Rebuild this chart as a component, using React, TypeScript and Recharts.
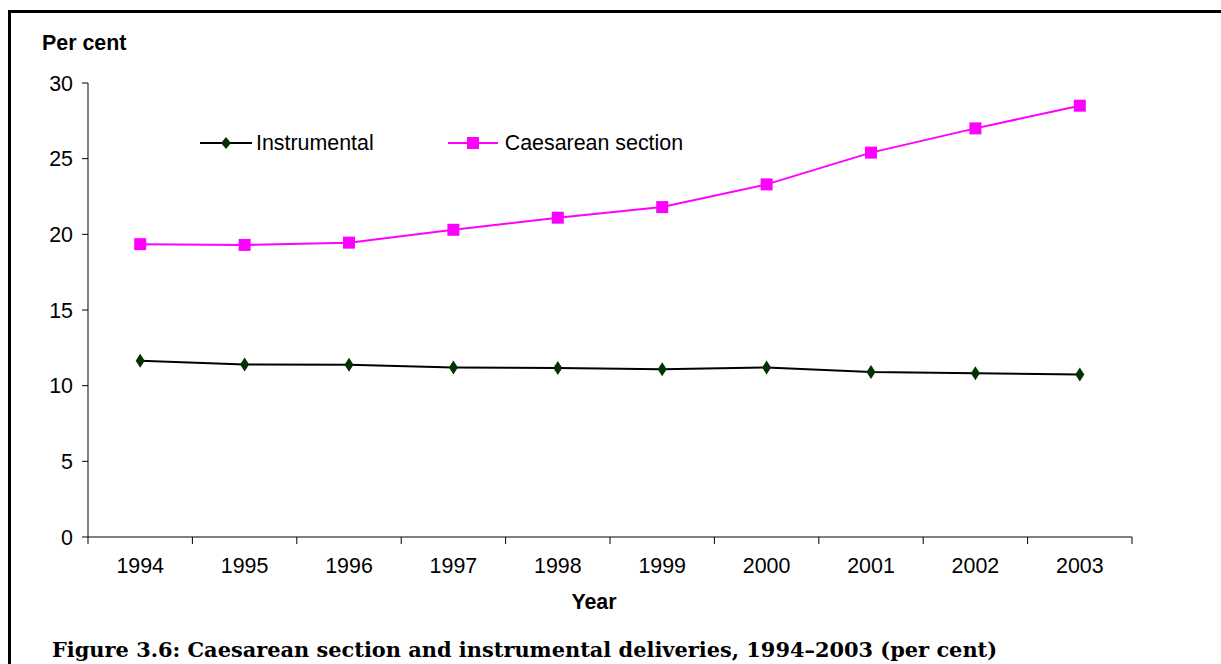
import React from "react";
import { LineChart, Line, XAxis, YAxis, Legend, Label } from "recharts";

const years = ["1994", "1995", "1996", "1997", "1998", "1999", "2000", "2001", "2002", "2003"];
const instrumental = [11.65, 11.4, 11.38, 11.2, 11.17, 11.08, 11.2, 10.9, 10.82, 10.73];
const caesarean = [19.35, 19.3, 19.45, 20.3, 21.1, 21.8, 23.3, 25.4, 27.0, 28.5];
const yTicks = [0, 5, 10, 15, 20, 25, 30];

const data = years.map((year, i) => ({
  x: i + 0.5,
  year,
  instrumental: instrumental[i],
  caesarean: caesarean[i],
}));

const boundaryTicks = years.map((_, i) => i).concat(years.length);
const centerTicks = years.map((_, i) => i + 0.5);

const FONT = '"Liberation Sans", Arial, sans-serif';
const FS = 21.4;
const GREEN = "#003300";
const MAGENTA = "#FF00FF";

const Diamond = (props: any) => {
  const { cx, cy } = props;
  if (cx == null || cy == null) return null;
  return (
    <polygon
      points={`${cx},${cy - 7} ${cx + 4.5},${cy} ${cx},${cy + 7} ${cx - 4.5},${cy}`}
      fill={GREEN}
    />
  );
};

const Square = (props: any) => {
  const { cx, cy } = props;
  if (cx == null || cy == null) return null;
  return <rect x={cx - 6} y={cy - 6} width={12} height={12} fill={MAGENTA} />;
};

const renderLegend = () => (
  <div style={{ display: "flex", alignItems: "center", fontFamily: FONT, fontSize: FS, color: "#000" }}>
    <svg width={52} height={20}>
      <line x1={0} y1={9} x2={52} y2={9} stroke="#000" strokeWidth={2} />
      <polygon points="26,3 31,9 26,15 21,9" fill={GREEN} />
    </svg>
    <span style={{ marginLeft: 4, marginRight: 74 }}>Instrumental</span>
    <svg width={50} height={20}>
      <line x1={0} y1={9} x2={50} y2={9} stroke={MAGENTA} strokeWidth={2} />
      <rect x={19} y={3} width={12} height={12} fill={MAGENTA} />
    </svg>
    <span style={{ marginLeft: 7 }}>Caesarean section</span>
  </div>
);

export default function App() {
  return (
    <div style={{ position: "absolute", left: 0, top: 0, width: 1221, height: 664, background: "#fff", overflow: "hidden" }}>
      <div
        style={{
          position: "absolute",
          left: 8,
          top: 10,
          width: 1300,
          height: 700,
          borderLeft: "3px solid #000",
          borderTop: "3px solid #000",
        }}
      />
      <div
        style={{
          position: "absolute",
          left: 42,
          top: 31,
          fontFamily: FONT,
          fontWeight: "bold",
          fontSize: FS,
          color: "#000",
        }}
      >
        Per cent
      </div>
      <div
        style={{
          position: "absolute",
          left: 52,
          top: 637,
          fontFamily: '"DejaVu Serif", serif',
          fontWeight: "bold",
          fontSize: 20.9,
          color: "#000",
          whiteSpace: "nowrap",
        }}
      >
        Figure 3.6: Caesarean section and instrumental deliveries, 1994–2003 (per cent)
      </div>
      <div style={{ position: "absolute", left: 0, top: 0 }}>
        <LineChart width={1221} height={664} data={data} margin={{ top: 83, right: 89, left: 28, bottom: 51 }}>
          <XAxis
            xAxisId="axisA"
            type="number"
            dataKey="x"
            domain={[0, 10]}
            ticks={boundaryTicks}
            tickFormatter={() => ""}
            tickSize={7}
            height={6}
            axisLine={{ stroke: "#000" }}
            tickLine={{ stroke: "#000" }}
          />
          <XAxis
            xAxisId="axisB"
            type="number"
            dataKey="x"
            domain={[0, 10]}
            ticks={centerTicks}
            tickFormatter={(v: number) => years[Math.floor(v)]}
            axisLine={false}
            tickLine={false}
            tickMargin={9}
            height={70}
            tick={{ fontSize: FS, fill: "#000", fontFamily: FONT }}
          >
            <Label
              value="Year"
              position="insideBottom"
              offset={4}
              dx={-16}
              style={{ fontSize: FS, fontWeight: "bold", fill: "#000", fontFamily: FONT }}
            />
          </XAxis>
          <YAxis
            domain={[0, 30]}
            ticks={yTicks}
            width={60}
            tickSize={6}
            tickMargin={9}
            axisLine={{ stroke: "#000" }}
            tickLine={{ stroke: "#000" }}
            tick={{ fontSize: FS, fill: "#000", fontFamily: FONT }}
          />
          <Legend
            layout="vertical"
            align="center"
            verticalAlign="middle"
            content={renderLegend}
            wrapperStyle={{ left: 200, top: 131, width: 700 }}
          />
          <Line
            xAxisId="axisA"
            dataKey="instrumental"
            name="Instrumental"
            type="linear"
            stroke="#000"
            strokeWidth={2}
            dot={<Diamond />}
            activeDot={false}
            isAnimationActive={false}
          />
          <Line
            xAxisId="axisA"
            dataKey="caesarean"
            name="Caesarean section"
            type="linear"
            stroke={MAGENTA}
            strokeWidth={2}
            dot={<Square />}
            activeDot={false}
            isAnimationActive={false}
          />
        </LineChart>
      </div>
    </div>
  );
}
